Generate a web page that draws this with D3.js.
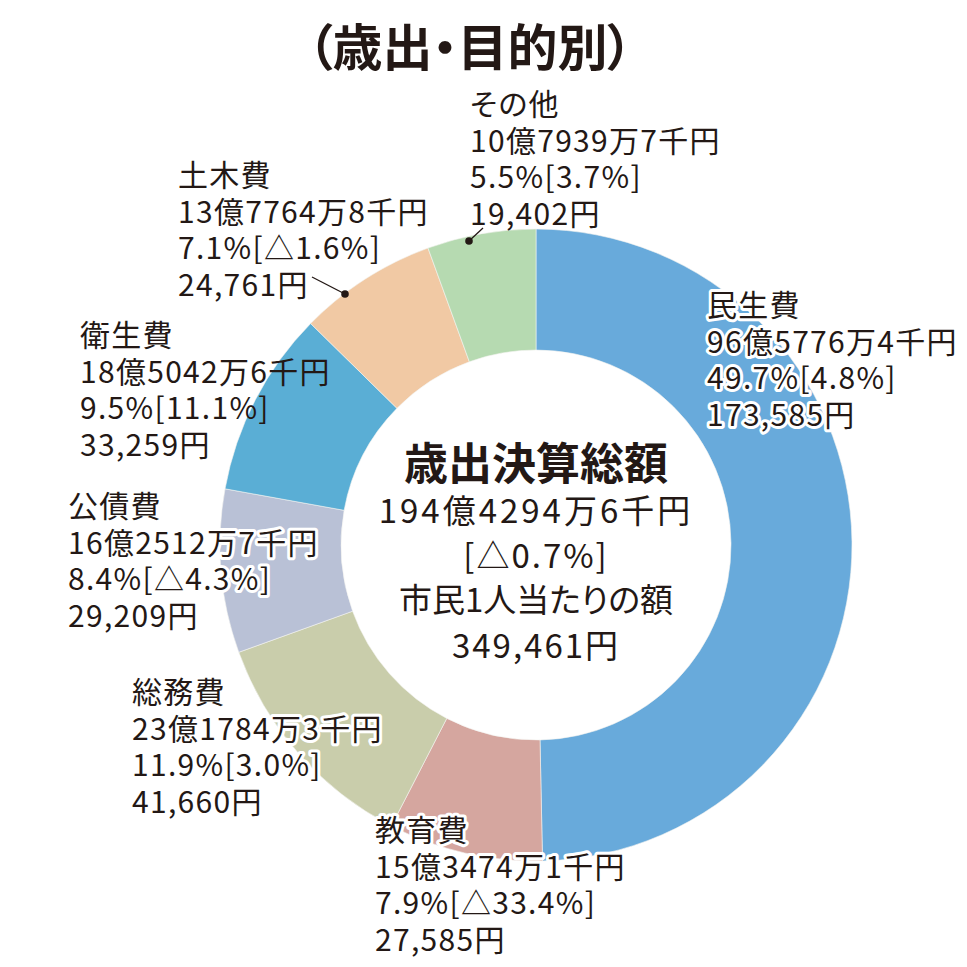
<!DOCTYPE html>
<html>
<head>
<meta charset="utf-8">
<script src="https://cdn.jsdelivr.net/npm/d3@7"></script>
<style>
  html, body { margin: 0; padding: 0; background: #ffffff; }
  svg { display: block; }
  text { font-family: "Noto Sans CJK JP", "Noto Sans", sans-serif; fill: #231815; font-feature-settings: "palt"; }
</style>
</head>
<body>
<svg id="chart" width="967" height="967"></svg>
<script>
// ---- data ----
const title = "（歳出・目的別）";
const categories = ["民生費", "教育費", "総務費", "公債費", "衛生費", "土木費", "その他"];
const amounts = [9657764, 1534741, 2317843, 1625127, 1850426, 1377648, 1079397]; // 千円
const shares = [49.7, 7.9, 11.9, 8.4, 9.5, 7.1, 5.5];          // %
const changes = [4.8, -33.4, 3.0, -4.3, 11.1, -1.6, 3.7];       // 前年度比 %
const perCapita = [173585, 27585, 41660, 29209, 33259, 24761, 19402]; // 円
const centerTitle = "歳出決算総額";
const totalAmount = 19442946; // 千円
const totalChange = -0.7;
const centerCaption = "市民1人当たりの額";
const totalPerCapita = 349461;

// ---- styles / layout ----
const colors = ["#68aadb", "#d5a69f", "#c9cdab", "#b9c1d6", "#5aaed5", "#f1c9a4", "#b6dab1"];
const labelPos = [
  {x: 707, y: 316, halo: true},
  {x: 375, y: 841, halo: true},
  {x: 132, y: 703, halo: true},
  {x: 68,  y: 517, halo: true},
  {x: 80,  y: 346, halo: false},
  {x: 178, y: 186, halo: false},
  {x: 470, y: 115, halo: false}
];
const lineGap = 36.7;

const fmtYen = d3.format(",");
function fmtAmount(v) {
  const oku = Math.floor(v / 100000);
  const man = Math.floor((v % 100000) / 10);
  const sen = v % 10;
  return `${oku}億${man}万${sen}千円`;
}
function fmtChange(c) {
  return (c < 0 ? "△" : "") + Math.abs(c).toFixed(1) + "%";
}

const svg = d3.select("#chart");
const cx = 536, cy = 545, R = 316, r = 195;

const pie = d3.pie().sort(null).value(d => d);
const arc = d3.arc().innerRadius(r).outerRadius(R);
const arcs = pie(amounts);

const g = svg.append("g").attr("transform", `translate(${cx},${cy})`);
g.selectAll("path.slice").data(arcs).join("path")
  .attr("class", "slice")
  .attr("d", arc)
  .attr("fill", (d, i) => colors[i])
  .attr("stroke", "#f4f4f0")
  .attr("stroke-width", 0.6);

// title
svg.append("text")
  .attr("x", 470).attr("y", 66)
  .attr("text-anchor", "middle")
  .attr("font-size", 50).attr("font-weight", 700)
  .text(title);

// leader lines (その他, 土木費)
const leaders = [
  {i: 6, x1: 483, y1: 228, x2: 469, y2: 241},
  {i: 5, x1: 312, y1: 277, x2: 345, y2: 294}
];
leaders.forEach(l => {
  svg.append("line").attr("x1", l.x1).attr("y1", l.y1).attr("x2", l.x2).attr("y2", l.y2)
    .attr("stroke", "#231815").attr("stroke-width", 1.3);
  svg.append("circle").attr("cx", l.x2).attr("cy", l.y2).attr("r", 3.8).attr("fill", "#231815");
});

// labels
categories.forEach((c, i) => {
  const lines = [c, fmtAmount(amounts[i]), `${shares[i].toFixed(1)}%[${fmtChange(changes[i])}]`, `${fmtYen(perCapita[i])}円`];
  const p = labelPos[i];
  const t = svg.append("text")
    .attr("font-size", 30)
    .attr("letter-spacing", 1.3)
    .attr("stroke", p.halo ? "#ffffff" : "none")
    .attr("stroke-width", p.halo ? 6 : 0)
    .attr("stroke-linejoin", "round")
    .attr("paint-order", "stroke");
  lines.forEach((s, k) => {
    t.append("tspan").attr("x", p.x).attr("y", p.y + k * lineGap).text(s);
  });
});

// center text
const center = svg.append("g").attr("text-anchor", "middle");
center.append("text").attr("x", cx).attr("y", 480).attr("font-size", 44).attr("font-weight", 700).text(centerTitle);
center.append("text").attr("x", cx).attr("y", 523).attr("font-size", 33).attr("letter-spacing", 3).text(fmtAmount(totalAmount));
center.append("text").attr("x", cx).attr("y", 568).attr("font-size", 33).attr("letter-spacing", 2).text(`[${fmtChange(totalChange)}]`);
center.append("text").attr("x", cx).attr("y", 612).attr("font-size", 33).text(centerCaption);
center.append("text").attr("x", cx).attr("y", 658).attr("font-size", 33).attr("letter-spacing", 2).text(`${fmtYen(totalPerCapita)}円`);
</script>
</body>
</html>
